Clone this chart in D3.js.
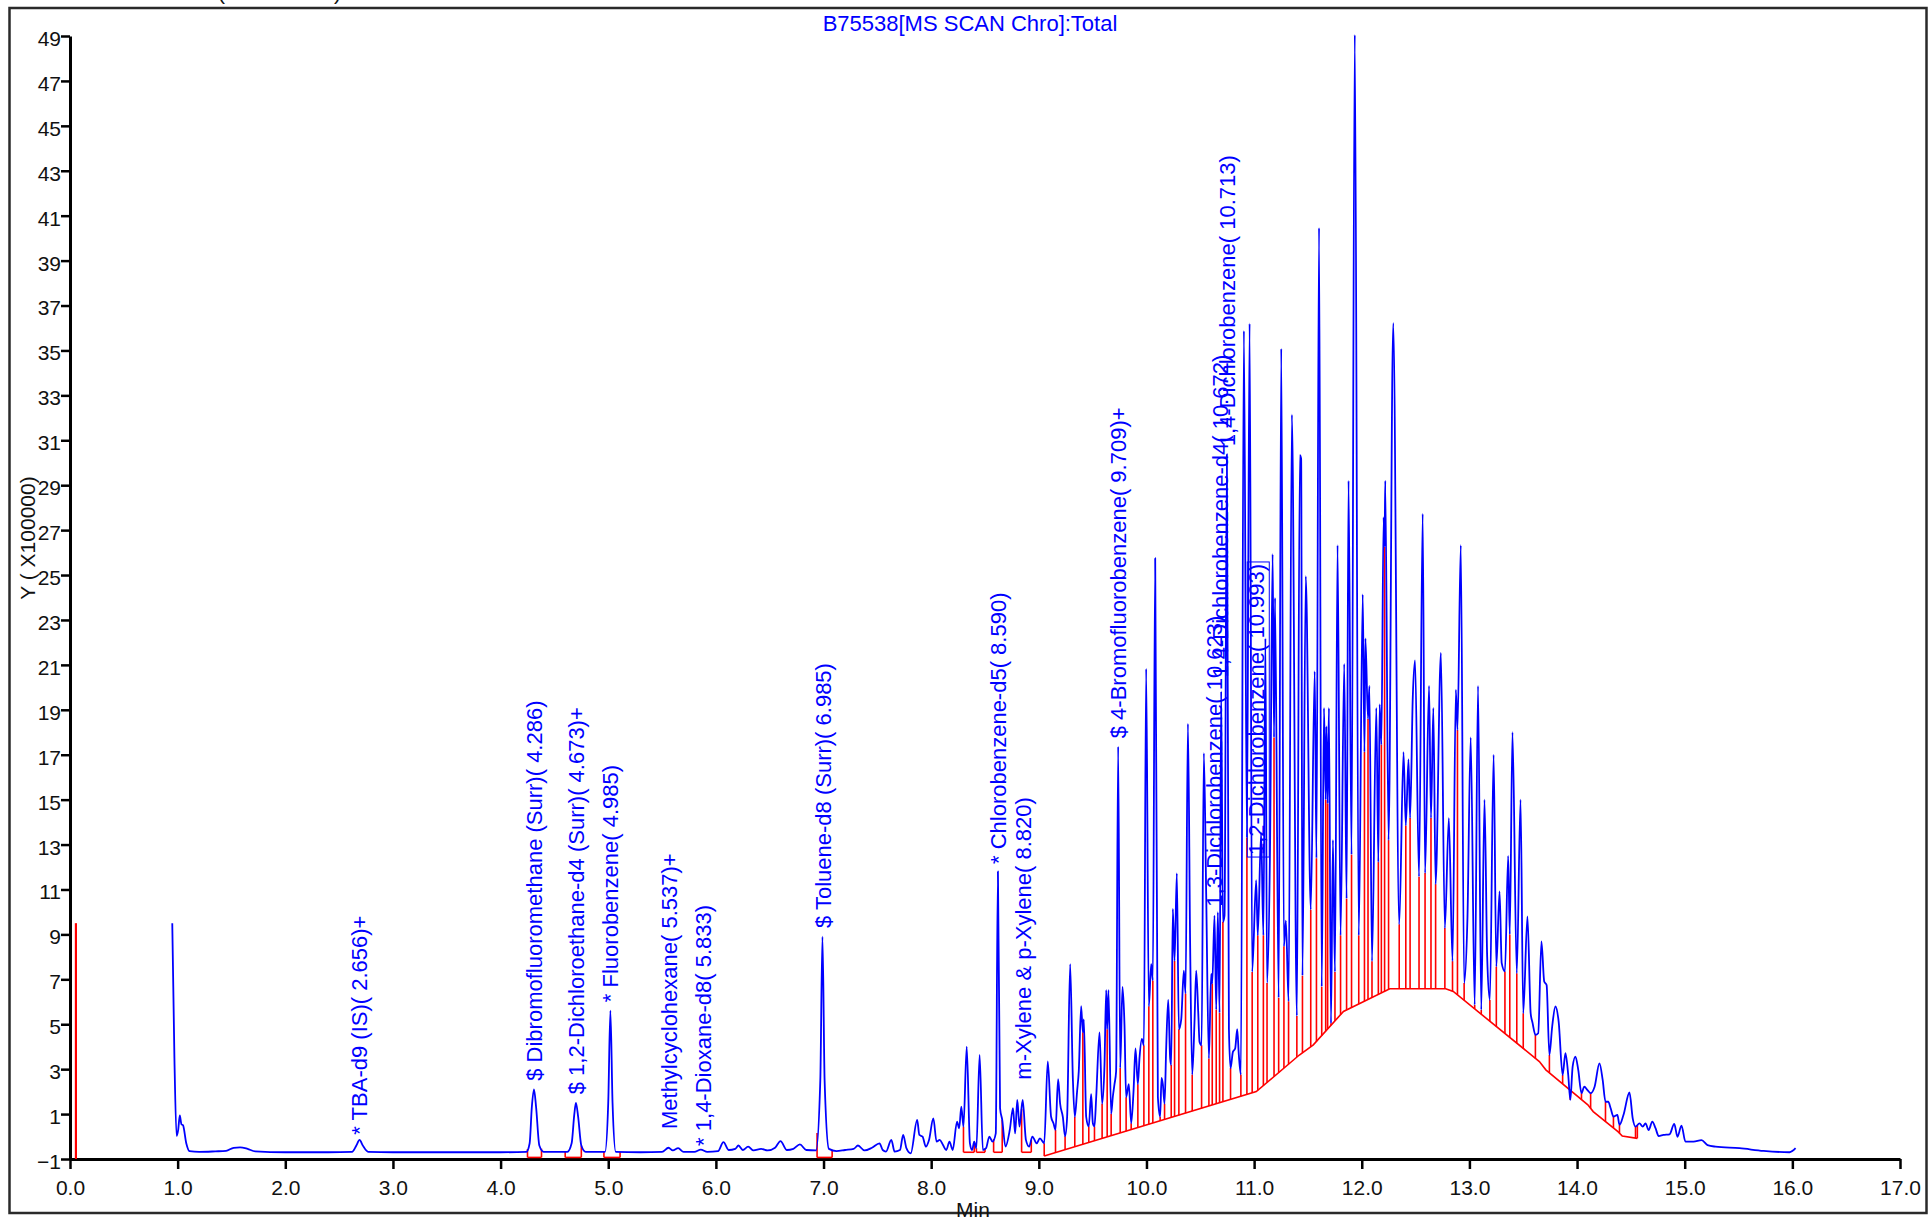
<!DOCTYPE html>
<html>
<head>
<meta charset="utf-8">
<script src="https://cdn.jsdelivr.net/npm/d3@7"></script>
<style>
  body { margin: 0; background: #fff; }
  svg { display: block; font-family: "Liberation Sans", Arial, sans-serif; }
</style>
</head>
<body>
<div id="vis"></div>
<script>
// tick values
var xTicks = [0, 1, 2, 3, 4, 5, 6, 7, 8, 9, 10, 11, 12, 13, 14, 15, 16, 17];
var yTicks = [-1, 1, 3, 5, 7, 9, 11, 13, 15, 17, 19, 21, 23, 25, 27, 29, 31, 33, 35, 37, 39, 41, 43, 45, 47, 49];

// TIC trace, [min, counts x100000]
var traceEarly = [[0.95,9.5],[0.97,3.5],[0.99,0.03],[1.005,0.3],[1.02,0.94],[1.035,0.55],[1.05,0.5],[1.08,-0.3],[1.11,-0.65],
  [1.2,-0.68],[1.35,-0.66],[1.45,-0.64],[1.52,-0.5],[1.58,-0.48],[1.65,-0.55],[1.72,-0.66],[2.0,-0.7],[2.4,-0.7],
  [2.62,-0.68],[2.66,-0.4],[2.69,-0.15],[2.72,-0.4],[2.77,-0.68],[3.0,-0.7],[3.5,-0.7],[4.0,-0.7],
  [4.24,-0.68],[4.27,-0.3],[4.29,1.3],[4.31,2.1],[4.33,1.3],[4.36,-0.4],[4.40,-0.68],
  [4.62,-0.68],[4.66,-0.3],[4.685,1.0],[4.70,1.5],[4.72,0.9],[4.75,-0.4],[4.79,-0.68],
  [4.97,-0.68],[5.0,1.5],[5.02,5.6],[5.04,1.5],[5.07,-0.68]];

var traceMid = [[5.3,-0.7],[5.5,-0.68],[5.56,-0.5],[5.6,-0.62],[5.65,-0.52],[5.7,-0.68],[5.8,-0.68],[5.86,-0.58],[5.92,-0.68],
  [6.02,-0.65],[6.07,-0.25],[6.12,-0.6],[6.18,-0.55],[6.21,-0.4],[6.25,-0.6],[6.30,-0.45],[6.35,-0.62],[6.42,-0.55],
  [6.48,-0.62],[6.55,-0.5],[6.60,-0.2],[6.66,-0.6],[6.72,-0.55],[6.78,-0.35],[6.84,-0.6],[6.93,-0.62],
  [6.97,2.5],[6.99,8.9],[7.01,2.5],[7.05,-0.55],[7.12,-0.65],[7.2,-0.6],[7.28,-0.55],[7.32,-0.4],[7.38,-0.62],
  [7.45,-0.5],[7.52,-0.3],[7.55,-0.6],[7.58,-0.67],[7.63,-0.15],[7.66,-0.67],[7.71,-0.6],[7.74,0.07],[7.77,-0.52],
  [7.81,-0.75],[7.87,0.74],[7.89,0.07],[7.92,0.0],[7.95,-0.45],[7.98,-0.15],[8.02,0.81],[8.05,-0.23],[8.08,-0.15],
  [8.11,-0.38],[8.14,-0.6],[8.17,-0.23],[8.20,-0.6],[8.24,0.66],[8.26,0.37],[8.28,1.33],[8.30,0.44],[8.33,4.0],
  [8.36,-0.3],[8.38,-0.6],[8.40,-0.23],[8.42,-0.52],[8.45,3.64],[8.48,-0.6],[8.51,-0.52],[8.54,0.0],[8.57,-0.23],
  [8.60,0.14],[8.62,11.8],[8.64,1.26],[8.66,0.74],[8.69,-0.45],[8.73,0.29],[8.76,1.26],[8.78,0.14],[8.80,1.63],
  [8.82,0.44],[8.85,1.63],[8.88,-0.15],[8.91,-0.45],[8.94,0.0],[8.98,-0.3],[9.01,-0.08],[9.05,-0.3]];

var traceDense = [[9.083,3.34],[9.114,0.88],[9.136,0.59],[9.155,0.30],[9.179,2.56],[9.198,1.46],[9.223,0.88],[9.244,0.01],
  [9.263,0.88],[9.291,7.68],[9.316,2.61],[9.334,0.88],[9.356,2.04],[9.371,2.90],[9.393,5.80],[9.409,4.64],[9.418,5.22],
  [9.440,0.88],[9.464,0.45],[9.486,1.89],[9.502,0.59],[9.517,0.45],[9.533,1.75],[9.564,4.64],[9.588,1.46],[9.610,3.19],
  [9.626,6.52],[9.635,4.78],[9.647,6.52],[9.672,1.02],[9.687,1.75],[9.703,2.33],[9.718,2.90],[9.737,17.36],[9.756,3.05],
  [9.777,6.66],[9.796,4.93],[9.811,1.75],[9.836,2.33],[9.858,0.59],[9.880,2.04],[9.898,3.92],[9.920,2.33],[9.935,3.48],
  [9.957,4.35],[9.976,4.06],[9.997,20.83],[10.022,5.80],[10.044,7.68],[10.059,6.95],[10.081,25.75],[10.106,1.75],
  [10.127,0.88],[10.140,2.61],[10.152,2.33],[10.168,1.46],[10.183,3.92],[10.202,6.08],[10.220,3.48],[10.230,3.19],
  [10.245,10.13],[10.261,7.82],[10.282,11.72],[10.301,4.78],[10.323,5.22],[10.347,7.39],[10.363,6.37],[10.385,18.38],
  [10.406,8.40],[10.425,2.76],[10.446,5.07],[10.462,7.39],[10.481,5.51],[10.493,4.21],[10.512,4.06],[10.533,17.07],
  [10.555,10.71],[10.580,3.48],[10.601,7.24],[10.611,6.81],[10.632,9.84],[10.648,5.65],[10.663,9.99],[10.679,5.51],
  [10.694,19.82],[10.710,9.56],[10.725,9.84],[10.747,30.38],[10.766,4.78],[10.781,3.05],[10.803,3.77],[10.824,3.92],
  [10.843,4.78],[10.858,3.63],[10.877,2.76],[10.905,35.87],[10.933,13.31],[10.958,36.2],
  [10.982,7.33],[11.019,11.41],[11.034,8.96],[11.065,13.53],[11.086,8.96],[11.105,22.18],[11.120,6.84],[11.148,12.88],
  [11.172,25.93],[11.185,17.77],[11.194,23.98],[11.228,6.18],[11.252,35.08],[11.277,8.47],[11.295,9.61],[11.320,6.02],
  [11.351,32.14],[11.397,5.37],[11.425,30.34],[11.437,30.18],[11.449,7.16],[11.480,24.95],[11.526,10.10],[11.563,20.71],
  [11.579,12.39],[11.603,40.46],[11.628,6.67],[11.649,19.08],[11.665,15.00],[11.671,18.26],[11.683,14.83],[11.695,19.08],
  [11.714,5.04],[11.732,13.20],[11.751,7.33],[11.775,26.33],[11.803,8.96],[11.837,21.04],[11.859,10.59],[11.877,29.20],
  [11.905,12.55],[11.935,49.05],[11.972,8.96],[12.009,24.14],[12.025,17.12],[12.034,22.18],[12.058,18.59],[12.071,20.06],
  [12.095,7.81],[12.135,19.08],[12.154,12.22],[12.166,19.24],[12.182,17.45],[12.203,27.57],[12.212,26.26],[12.218,29.20],
  [12.249,13.20],[12.292,36.22],[12.348,9.45],[12.388,17.12],[12.409,13.85],[12.434,16.79],[12.449,14.18],[12.474,19.57],
  [12.495,21.20],[12.532,11.57],[12.566,27.73],[12.588,11.73],[12.625,20.06],[12.643,14.18],[12.665,19.08],[12.686,11.24],
  [12.735,21.53],[12.772,9.28],[12.809,14.18],[12.843,7.81],[12.874,19.89],[12.889,18.10],[12.920,26.33],[12.951,6.84],
  [12.982,9.77],[13.012,17.77],[13.049,5.86],[13.08,20.06],[13.11,5.64],[13.14,15.0],[13.165,8.0],[13.19,6.08],
  [13.225,17.0],[13.25,7.57],[13.28,10.91],[13.30,7.72],[13.33,7.35],[13.36,12.5],[13.375,9.0],[13.40,18.0],
  [13.44,7.27],[13.475,15.0],[13.50,5.49]];

var traceTail = [[13.539,9.80],[13.569,5.49],[13.587,5.05],[13.613,4.53],[13.639,4.60],[13.669,8.69],[13.695,6.90],
  [13.717,6.75],[13.743,3.63],[13.769,4.90],[13.799,5.79],[13.829,5.12],[13.866,2.74],[13.892,3.71],[13.918,2.74],
  [13.937,1.63],[13.959,3.11],[13.985,3.56],[14.011,2.97],[14.041,1.93],[14.067,2.22],[14.097,2.07],[14.126,1.93],
  [14.163,2.22],[14.208,3.26],[14.238,2.52],[14.264,1.55],[14.290,1.55],[14.312,1.26],[14.338,0.89],[14.375,0.96],
  [14.394,0.52],[14.431,0.96],[14.487,1.96],[14.517,0.81],[14.543,0.44],[14.580,0.59],[14.610,0.44],[14.636,0.59],
  [14.665,0.29],[14.699,0.66],[14.729,0.37],[14.758,0.02],[14.803,0.07],[14.859,0.10],[14.903,0.56],[14.933,-0.01],
  [14.970,0.49],[15.007,-0.23],[15.082,-0.23],[15.156,-0.16],[15.212,-0.38],[15.286,-0.45],[15.509,-0.52],
  [15.732,-0.64],[15.974,-0.70],[16.03,-0.52]];

// integration baseline under the late hump
var hump = [[9.05,-0.87],[11.02,2.0],[11.42,3.63],[11.55,4.08],[11.83,5.57],[12.26,6.58],[12.78,6.58],[12.85,6.46],
  [13.65,3.34],[13.71,2.97],[14.10,1.41],[14.15,1.11],[14.38,0.22],[14.42,0.02],[14.56,-0.08]];

// single peak integrations: start, end, baseline level
var peakStart = [4.25, 4.60, 4.96, 6.94, 8.30, 8.42, 8.58, 8.84];
var peakEnd   = [4.38, 4.75, 5.11, 7.08, 8.40, 8.50, 8.66, 8.93];
var peakBase  = [-0.93, -0.93, -0.93, -0.93, -0.7, -0.7, -0.7, -0.7];

// solvent marker
var solventT = 0.055, solventTop = 9.5;

// compound labels
var labNames = ['* TBA-d9 (IS)( 2.656)+', '$ Dibromofluoromethane (Surr)( 4.286)', '$ 1,2-Dichloroethane-d4 (Surr)( 4.673)+',
  '* Fluorobenzene( 4.985)', 'Methylcyclohexane( 5.537)+', '* 1,4-Dioxane-d8( 5.833)', '$ Toluene-d8 (Surr)( 6.985)',
  '* Chlorobenzene-d5( 8.590)', 'm-Xylene & p-Xylene( 8.820)', '$ 4-Bromofluorobenzene( 9.709)+',
  '1,3-Dichlorobenzene( 10.623)', '1,4-Dichlorobenzene-d4( 10.672)', '1,4-Dichlorobenzene( 10.713)', '1,2-Dichlorobenzene( 10.993)'];
var labT = [2.69, 4.31, 4.70, 5.02, 5.57, 5.88, 7.00, 8.62, 8.86, 9.74, 10.63, 10.69, 10.75, 11.02];
var labV = [-0.05, 2.35, 1.75, 5.85, 0.2, -0.55, 9.15, 12.0, 2.4, 17.6, 10.1, 20.3, 30.6, 12.4];
var boxedLabel = 13;

var width = 1929, height = 1217;
var margin = {left: 70, right: 29, top: 36, bottom: 58};

var svg = d3.select('#vis')
            .append('svg')
            .attr('width', width)
            .attr('height', height);

svg.append('rect')
   .attr('width', width).attr('height', height)
   .attr('fill', '#fff');

// outer frame
svg.append('rect')
   .attr('x', 9.5).attr('y', 8)
   .attr('width', 1917).attr('height', 1205)
   .attr('fill', 'none')
   .attr('stroke', '#2a2a2a')
   .attr('stroke-width', 2.5);

// clipped header above the frame
svg.append('text').attr('x', 218).attr('y', 0).attr('font-size', 21).attr('fill', '#111').text('(');
svg.append('text').attr('x', 334).attr('y', 0).attr('font-size', 21).attr('fill', '#111').text(')');

var xScale = d3.scaleLinear().domain([0, 17]).range([margin.left, width - margin.right]);
var yScale = d3.scaleLinear().domain([-1, 49]).range([height - margin.bottom, margin.top]);

var xAxis = d3.axisBottom(xScale)
              .tickValues(xTicks)
              .tickFormat(d3.format('.1f'))
              .tickSize(10)
              .tickSizeOuter(0)
              .tickPadding(11);
var yAxis = d3.axisLeft(yScale)
              .tickValues(yTicks)
              .tickFormat(d3.format('d'))
              .tickSize(9)
              .tickSizeOuter(0)
              .tickPadding(0);

var xAxisG = svg.append('g')
                .attr('transform', `translate(0, ${yScale(-1)})`)
                .call(xAxis);
var yAxisG = svg.append('g')
                .attr('transform', `translate(${margin.left}, 0)`)
                .call(yAxis);

[xAxisG, yAxisG].forEach(function(g) {
    g.attr('font-family', null).attr('font-size', null);
    g.select('.domain').attr('stroke', '#000').attr('stroke-width', 3);
    g.selectAll('.tick line').attr('stroke', '#000').attr('stroke-width', 2.5);
    g.selectAll('.tick text').attr('fill', '#111').attr('font-size', 21);
});
yAxisG.selectAll('.tick text').attr('dy', '0.45em');

// axis titles
svg.append('text')
   .attr('transform', 'translate(35, 538) rotate(-90)')
   .attr('text-anchor', 'middle')
   .attr('font-size', 21)
   .attr('fill', '#111')
   .text('Y ( X100000)');
svg.append('text')
   .attr('x', 973).attr('y', 1217)
   .attr('text-anchor', 'middle')
   .attr('font-size', 21)
   .attr('fill', '#111')
   .text('Min');

// title
svg.append('text')
   .attr('x', 970).attr('y', 31)
   .attr('text-anchor', 'middle')
   .attr('font-size', 22)
   .attr('fill', '#0000ff')
   .text('B75538[MS SCAN Chro]:Total');

var trace = traceEarly.concat(traceMid, traceDense, traceTail);

var valueAt = function(pts, t) {
    for (var i = 1; i < pts.length; i++) {
        if (pts[i][0] >= t) {
            var a = pts[i - 1], b = pts[i];
            return a[1] + (b[1] - a[1]) * (t - a[0]) / (b[0] - a[0]);
        }
    }
    return pts[pts.length - 1][1];
};

// red integration marks
var red = svg.append('g').attr('stroke', '#ff0000').attr('fill', 'none').attr('stroke-width', 1.6);

red.append('line')
   .attr('x1', xScale(solventT)).attr('x2', xScale(solventT))
   .attr('y1', yScale(-1)).attr('y2', yScale(solventTop))
   .attr('stroke-width', 2.2);

var drops = [];
peakStart.forEach(function(t0, i) {
    var t1 = peakEnd[i], b = peakBase[i];
    red.append('line')
       .attr('x1', xScale(t0)).attr('x2', xScale(t1))
       .attr('y1', yScale(b)).attr('y2', yScale(b));
    drops.push([t0, b, valueAt(trace, t0)]);
    drops.push([t1, b, valueAt(trace, t1)]);
});

var line = d3.line()
             .x((d) => xScale(d[0]))
             .y((d) => yScale(d[1]));

red.append('path')
   .attr('d', line(hump));

var h0 = hump[0][0], h1 = hump[hump.length - 1][0];
drops.push([h0, hump[0][1], valueAt(trace, h0)]);
drops.push([h1, hump[hump.length - 1][1], valueAt(trace, h1)]);
for (var i = 1; i < trace.length - 1; i++) {
    var p = trace[i];
    if (p[0] > h0 && p[0] < h1 && p[1] < trace[i - 1][1] && p[1] <= trace[i + 1][1]) {
        drops.push([p[0], valueAt(hump, p[0]), p[1]]);
    }
}

red.selectAll('line.drop')
   .data(drops)
   .enter()
   .append('line')
   .attr('class', 'drop')
   .attr('x1', (d) => xScale(d[0]))
   .attr('x2', (d) => xScale(d[0]))
   .attr('y1', (d) => yScale(d[1]))
   .attr('y2', (d) => yScale(d[2]));

// the chromatogram
svg.append('path')
   .attr('d', line.curve(d3.curveMonotoneX)(trace))
   .attr('fill', 'none')
   .attr('stroke', '#0000ff')
   .attr('stroke-width', 1.8)
   .attr('stroke-linejoin', 'round');

// compound labels
var labels = labNames.map((name, i) => ({name: name, t: labT[i], v: labV[i], i: i}));
var labG = svg.append('g')
              .attr('fill', '#0000ff')
              .attr('font-size', 22);

labG.selectAll('g')
    .data(labels)
    .enter()
    .append('g')
    .attr('transform', (d) => `translate(${xScale(d.t)}, ${yScale(d.v) - 3}) rotate(-90)`)
    .each(function(d) {
        var g = d3.select(this);
        var txt = g.append('text')
                   .attr('dy', '0.35em')
                   .text(d.name);
        if (d.i === boxedLabel) {
            var len = txt.node().getComputedTextLength();
            g.append('rect')
             .attr('x', -2).attr('y', -9)
             .attr('width', len + 4).attr('height', 22)
             .attr('fill', 'none')
             .attr('stroke', '#0000ff')
             .attr('stroke-width', 1);
        }
    });
</script>
</body>
</html>
